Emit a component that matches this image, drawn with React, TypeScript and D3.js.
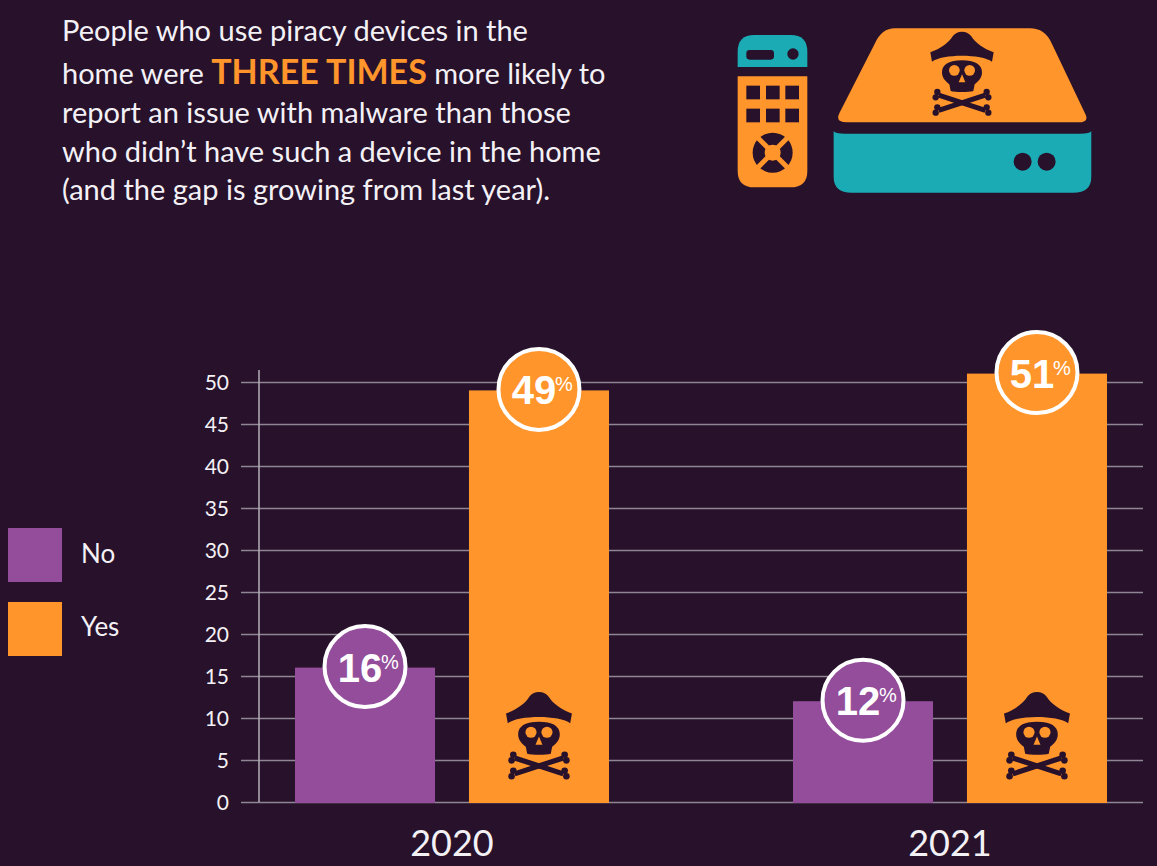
import * as d3 from 'd3';
import React, { useEffect, useRef } from 'react';

const years = ['2020', '2021'];
const seriesNames = ['No', 'Yes'];
const noValues = [16, 12];
const yesValues = [49, 51];
const yTicks = [0, 5, 10, 15, 20, 25, 30, 35, 40, 45, 50];

const BG = '#27112b';
const PURPLE = '#934d9b';
const ORANGE = '#ff952b';
const TEAL = '#1aabb5';
const TEXT = '#f4f1f6';
const SANS = 'Lato, sans-serif';

const colorOf = d3.scaleOrdinal<string, string>().domain(seriesNames).range([PURPLE, ORANGE]);
const y = d3.scaleLinear().domain([0, 50]).range([802, 382]);
const x0 = d3.scalePoint<string>().domain(years).range([452, 950]);
const x1 = d3.scaleBand<string>().domain(seriesNames).range([-157, 157]).paddingInner(0.195);

const bars = years.flatMap((year, i) => [
  { year, name: 'No', value: noValues[i] },
  { year, name: 'Yes', value: yesValues[i] },
]);

// pirate skull, drawn around its top centre
const Skull = ({ tx, ty, k, hole }: { tx: number; ty: number; k: number; hole: string }) => {
  const bones: [number, number, number, number][] = [
    [-70, 190, 70, 236],
    [70, 190, -70, 236],
  ];
  return (
    <g transform={`translate(${tx},${ty}) scale(${k})`} fill={BG}>
      <path d="M0 0 C-12 0 -22 5 -28 14 C-38 32 -65 52 -95 62 L-90 90 C-60 66 60 66 90 90 L95 62 C65 52 38 32 28 14 C22 5 12 0 0 0Z" />
      <path d="M0 86 C38 86 60 98 60 122 C60 140 48 150 38 158 L34 178 C20 182 -20 182 -34 178 L-38 158 C-48 150 -60 140 -60 122 C-60 98 -38 86 0 86Z" />
      <circle cx={-23} cy={116} r={16} fill={hole} />
      <circle cx={23} cy={116} r={16} fill={hole} />
      <path d="M0 128 L10 152 H-10Z" fill={hole} />
      {bones.map(([a, b, c, d], i) => (
        <g key={i}>
          <line x1={a} y1={b} x2={c} y2={d} stroke={BG} strokeWidth={15} />
          {[[a, b], [c, d]].map(([px, py], j) => (
            <g key={j}>
              <circle cx={px + (px < 0 ? -4 : 4)} cy={py - 9} r={9.5} />
              <circle cx={px + (px < 0 ? -9 : 9)} cy={py + 7} r={9.5} />
            </g>
          ))}
        </g>
      ))}
    </g>
  );
};

const Remote = () => (
  <g>
    <path d="M53 156 V110 Q53 60 103 60 H212 Q262 60 262 110 V156Z" fill={TEAL} />
    <rect x={79} y={105} width={83} height={29} rx={10} fill={BG} />
    <circle cx={219} cy={117} r={17} fill={BG} />
    <path d="M53 184 H262 V467 Q262 517 212 517 H103 Q53 517 53 467Z" fill={ORANGE} />
    {[212, 281].map(ry =>
      [79, 138, 196].map(rx => <rect key={`${rx}-${ry}`} x={rx} y={ry} width={41} height={41} fill={BG} />)
    )}
    <circle cx={158} cy={413} r={60} fill={BG} />
    <path d="M112 367 L204 459 M204 367 L112 459" stroke={ORANGE} strokeWidth={15} />
    <circle cx={158} cy={413} r={24} fill={ORANGE} />
  </g>
);

const Box = () => (
  <g>
    <path d="M525 40 H930 Q975 40 995 85 L1095 295 Q1110 322 1075 322 H380 Q345 322 358 295 L465 85 Q485 40 525 40Z" fill={ORANGE} />
    <path d="M341 348 Q345 356 375 356 H1080 Q1110 356 1114 348 V485 Q1114 533 1060 533 H395 Q341 533 341 485Z" fill={TEAL} />
    <circle cx={908} cy={440} r={27} fill={BG} />
    <circle cx={980} cy={440} r={27} fill={BG} />
  </g>
);

const Heading = () => (
  <text fontFamily={SANS} fontSize={29} fill={TEXT} x={62}>
    <tspan x={62} y={41}>People who use piracy devices in the</tspan>
    <tspan x={62} y={84}>home were </tspan>
    <tspan fontSize={34} fontWeight={700} fill={ORANGE}>THREE TIMES</tspan>
    <tspan> more likely to</tspan>
    <tspan x={62} y={123}>report an issue with malware than those</tspan>
    <tspan x={62} y={162}>who didn’t have such a device in the home</tspan>
    <tspan x={62} y={200}>(and the gap is growing from last year).</tspan>
  </text>
);

export default function App() {
  const axisRef = useRef<SVGGElement | null>(null);

  useEffect(() => {
    if (!axisRef.current) return;
    document.body.style.margin = '0';
    document.body.style.background = BG;
    const g = d3.select(axisRef.current);
    g.selectAll('*').remove();
    g.attr('transform', 'translate(259,0)').call(d3.axisLeft(y).tickValues(yTicks).tickSize(18).tickPadding(12));
    g.select('.domain').remove();
    g.selectAll('.tick line').attr('x2', 884).attr('x1', -18).attr('stroke', '#8f8694').attr('stroke-width', 1.5);
    g.selectAll('.tick text').attr('fill', TEXT).attr('font-family', SANS).attr('font-size', 21).attr('dy', '0.35em');
    g.append('line').attr('y1', 370).attr('y2', 802).attr('stroke', '#b5aeb8').attr('stroke-width', 1.5);
  }, []);

  return (
    <svg width={1157} height={866} style={{ display: 'block' }}>
      <rect width={1157} height={866} fill={BG} />
      <Heading />
      <g transform="translate(720,15) scale(0.3333)">
        <Remote />
        <Box />
      </g>
      <Skull tx={962} ty={31.7} k={0.3333} hole={ORANGE} />

      <g ref={axisRef} />

      {bars.map(d => (
        <rect
          key={d.year + d.name}
          x={x0(d.year)! + x1(d.name)!}
          y={y(d.value)}
          width={x1.bandwidth()}
          height={y(0) - y(d.value) + 1}
          fill={colorOf(d.name)}
        />
      ))}

      {years.map(year => (
        <Skull key={year} tx={x0(year)! + x1('Yes')! + x1.bandwidth() / 2} ty={692} k={0.347} hole={ORANGE} />
      ))}

      {bars.map(d => {
        const cx = x0(d.year)! + x1(d.name)! + x1.bandwidth() / 2;
        const cy = y(d.value) - 1;
        return (
          <g key={d.year + d.name + 'label'}>
            <circle cx={cx} cy={cy} r={40.5} fill={colorOf(d.name)} stroke="#fff" strokeWidth={4} />
            <text x={cx - 5} y={cy + 15} textAnchor="middle" fontFamily="'Liberation Sans Narrow', sans-serif" fontWeight={700} fontSize={40} fill="#fff">
              {d.value}
            </text>
            <text x={cx + 16} y={cy + 2} fontFamily="'Liberation Sans Narrow', sans-serif" fontSize={20} fill="#fff">
              %
            </text>
          </g>
        );
      })}

      {years.map(year => (
        <text key={year} x={x0(year)!} y={856} textAnchor="middle" fontFamily={SANS} fontSize={36} fill={TEXT}>
          {year}
        </text>
      ))}

      {seriesNames.map((name, i) => (
        <g key={name}>
          <rect x={8} y={528 + i * 74} width={54} height={54} fill={colorOf(name)} />
          <text x={81} y={563 + i * 73} fontFamily={SANS} fontSize={26} fill={TEXT}>
            {name}
          </text>
        </g>
      ))}
    </svg>
  );
}
